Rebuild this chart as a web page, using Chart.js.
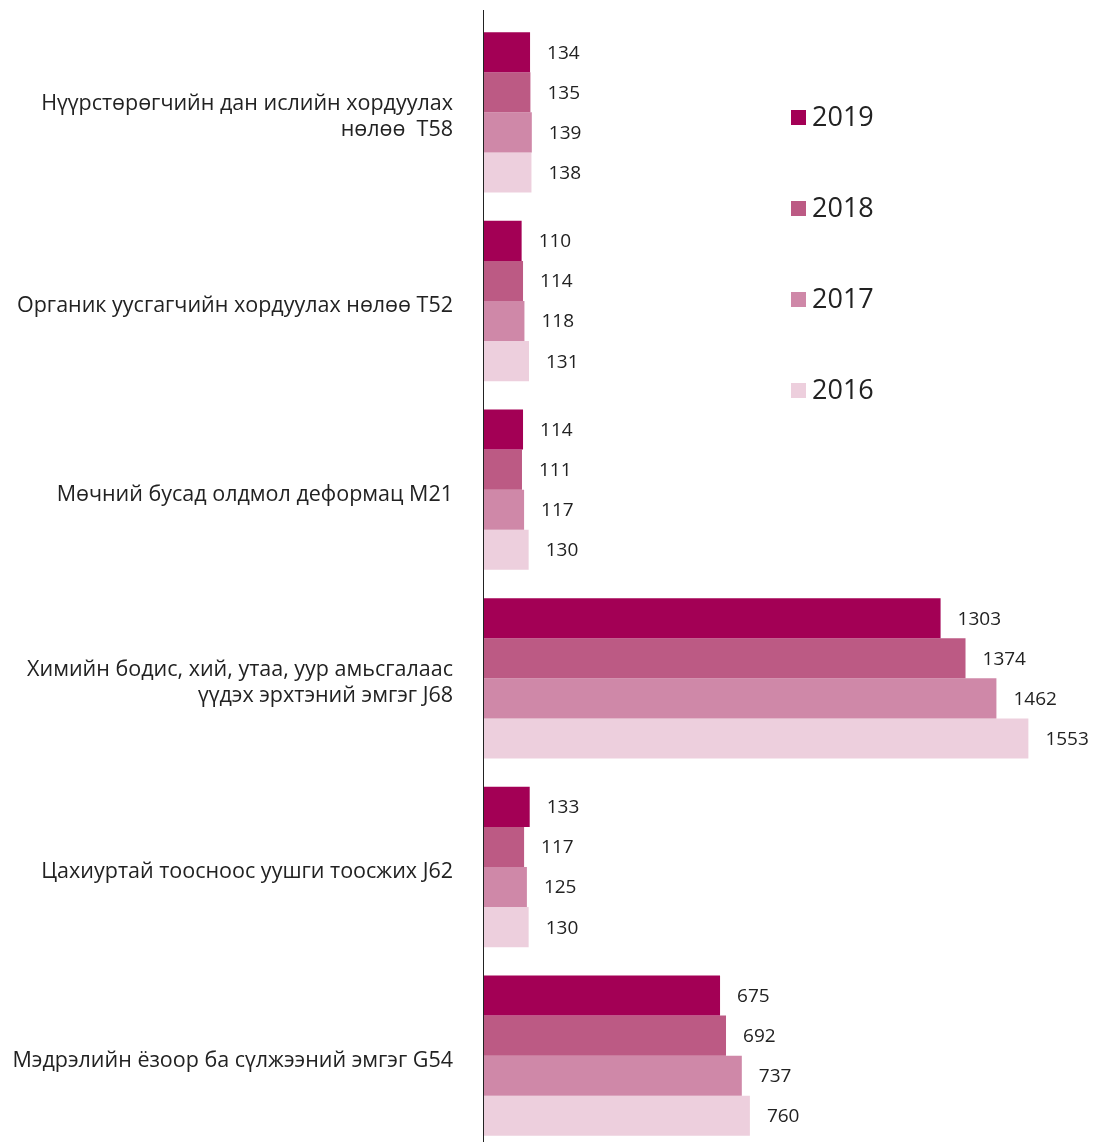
<!DOCTYPE html>
<html>
<head>
<meta charset="utf-8">
<script src="https://cdn.jsdelivr.net/npm/chart.js@4"></script>
<style>
  html, body { margin: 0; padding: 0; background: #fff; overflow: hidden; }
  #wrap { width: 1095px; height: 1142px; overflow: hidden; }
</style>
</head>
<body>
<div id="wrap"><canvas id="c" width="1095" height="1150"></canvas></div>
<script>
// Datos
const categorias = [
  ['Нүүрстөрөгчийн дан ислийн хордуулах', 'нөлөө  T58'],
  'Органик уусгагчийн хордуулах нөлөө T52',
  'Мөчний бусад олдмол деформац M21',
  ['Химийн бодис, хий, утаа, уур амьсгалаас', 'үүдэх эрхтэний эмгэг J68'],
  'Цахиуртай тоосноос уушги тоосжих J62',
  'Мэдрэлийн ёзоор ба сүлжээний эмгэг G54'
];
const v2019 = [134, 110, 114, 1303, 133, 675];
const v2018 = [135, 114, 111, 1374, 117, 692];
const v2017 = [139, 118, 117, 1462, 125, 737];
const v2016 = [138, 131, 130, 1553, 130, 760];
const anios = ['2019', '2018', '2017', '2016'];
const colores = ['#a30055', '#bc5a84', '#cf88a8', '#edcfdd'];

const FONT = "'Open Sans', 'Noto Sans', sans-serif";

// Etiquetas de valor al final de cada barra
const valorPlugin = {
  id: 'valores',
  afterDatasetsDraw(chart) {
    const ctx = chart.ctx;
    ctx.save();
    ctx.font = '19px ' + FONT;
    ctx.fillStyle = '#222';
    ctx.textBaseline = 'middle';
    ctx.textAlign = 'left';
    chart.data.datasets.forEach((ds, i) => {
      chart.getDatasetMeta(i).data.forEach((el, j) => {
        ctx.fillText(String(ds.data[j]), el.x + 17, el.y + 1);
      });
    });
    ctx.restore();
  }
};

// Eje vertical y leyenda
const ejeLeyenda = {
  id: 'ejeLeyenda',
  afterDraw(chart) {
    const ctx = chart.ctx;
    const x0 = Math.round(chart.scales.x.getPixelForValue(0)) + 0.5;
    ctx.save();
    ctx.strokeStyle = '#222';
    ctx.lineWidth = 1;
    ctx.beginPath();
    ctx.moveTo(x0, 10);
    ctx.lineTo(x0, chart.height);
    ctx.stroke();

    ctx.font = '27px ' + FONT;
    ctx.textBaseline = 'middle';
    ctx.textAlign = 'left';
    chart.data.datasets.forEach((ds, i) => {
      const y = 118 + i * 91;
      ctx.fillStyle = ds.backgroundColor;
      ctx.fillRect(791, y - 8, 15, 15);
      ctx.fillStyle = '#222';
      ctx.fillText(ds.label, 812, y);
    });
    ctx.restore();
  }
};

const series = [v2019, v2018, v2017, v2016];

new Chart(document.getElementById('c'), {
  type: 'bar',
  data: {
    labels: categorias,
    datasets: series.map((d, i) => ({
      label: anios[i],
      data: d,
      backgroundColor: colores[i],
      borderWidth: 0,
      categoryPercentage: 0.85,
      barPercentage: 1.0
    }))
  },
  options: {
    indexAxis: 'y',
    responsive: false,
    animation: false,
    layout: { padding: { top: 18, right: 15, left: 0, bottom: 0 } },
    plugins: { legend: { display: false }, tooltip: { enabled: false } },
    scales: {
      x: { display: false, min: 0, max: 1700 },
      y: {
        grid: { display: false, drawTicks: false },
        border: { display: false },
        afterFit(scale) {
          scale.width = 483;
          scale.paddingTop = 0;
          scale.paddingBottom = 0;
        },
        ticks: {
          padding: 30,
          labelOffset: 5,
          color: '#222',
          font: { family: FONT, size: 21.5, lineHeight: 1.21 }
        }
      }
    }
  },
  plugins: [valorPlugin, ejeLeyenda]
});
</script>
</body>
</html>
